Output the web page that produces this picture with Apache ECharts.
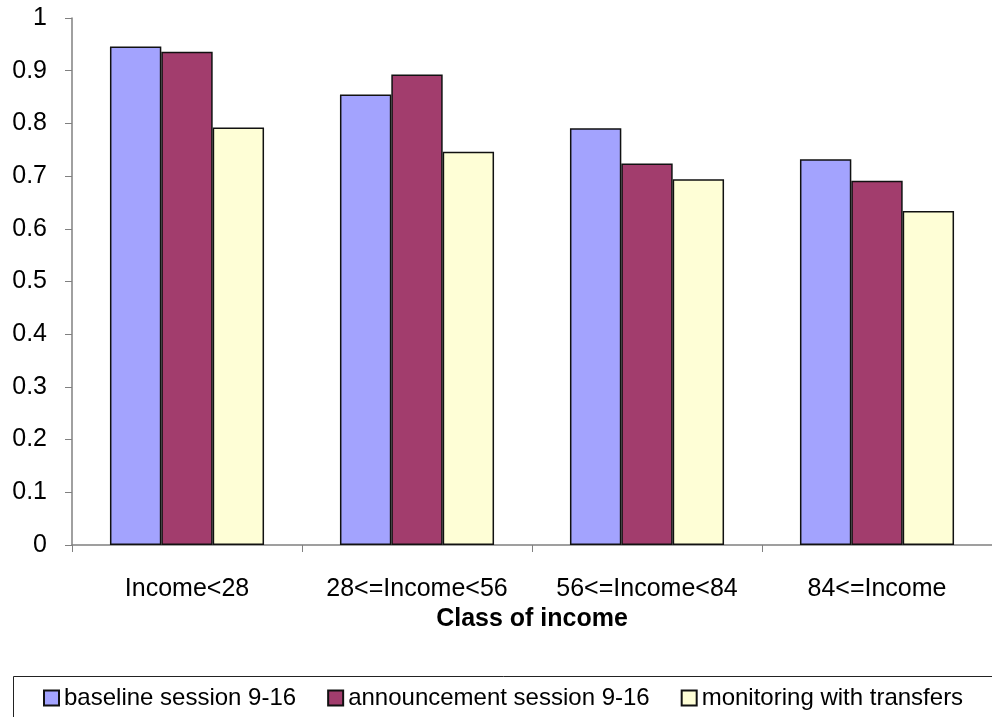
<!DOCTYPE html>
<html>
<head>
<meta charset="utf-8">
<script src="https://cdn.jsdelivr.net/npm/echarts@6/dist/echarts.min.js"></script>
<style>
  html, body { margin: 0; padding: 0; background: #fff; }
  #main { width: 992px; height: 717px; }
</style>
</head>
<body>
<div id="main"></div>
<script>
const categories = ['Income<28', '28<=Income<56', '56<=Income<84', '84<=Income']
const baseline = [0.946, 0.855, 0.791, 0.732]
const announcement = [0.936, 0.893, 0.724, 0.691]
const monitoring = [0.792, 0.746, 0.694, 0.634]
const seriesNames = ['baseline session 9-16', 'announcement session 9-16', 'monitoring with transfers']
const colors = ['#A3A3FE', '#A23D6D', '#FEFED6']

const font = 'Liberation Sans, Arial, sans-serif'
const chart = echarts.init(document.getElementById('main'))

const makeSeries = (name, data, color) => ({
  name: name,
  type: 'bar',
  data: data,
  barGap: '0%',
  barCategoryGap: '33%',
  itemStyle: { color: color, borderColor: '#111', borderWidth: 1.5 },
  emphasis: { disabled: true }
})

chart.setOption({
  animation: false,
  grid: { left: 72, right: -6, top: 18, bottom: 172 },
  graphic: [{
    type: 'rect',
    shape: { x: 13.5, y: 676.5, width: 990, height: 60 },
    style: { fill: '#fff', stroke: '#222', lineWidth: 1 },
    z: 0
  }],
  legend: {
    left: 43,
    top: 686,
    padding: 0,
    itemWidth: 15,
    itemHeight: 15,
    itemGap: 31,
    icon: 'rect',
    textStyle: { fontFamily: font, fontSize: 24, color: '#000' },
    data: seriesNames
  },
  xAxis: {
    type: 'category',
    data: categories,
    name: 'Class of income',
    nameLocation: 'middle',
    nameGap: 62,
    nameTextStyle: { fontFamily: font, fontSize: 25, fontWeight: 'bold', color: '#000' },
    axisLine: { lineStyle: { color: '#808080', width: 1.5 } },
    axisTick: { show: true, interval: 0, length: 7, lineStyle: { color: '#808080' } },
    axisLabel: { interval: 0, fontFamily: font, fontSize: 25, color: '#000', margin: 32 }
  },
  yAxis: {
    type: 'value',
    min: 0,
    max: 1,
    interval: 0.1,
    splitLine: { show: false },
    axisLine: { show: true, lineStyle: { color: '#808080', width: 1.5 } },
    axisTick: { show: true, length: 7, lineStyle: { color: '#808080' } },
    axisLabel: { fontFamily: font, fontSize: 25, color: '#000', margin: 25 }
  },
  series: [
    makeSeries(seriesNames[0], baseline, colors[0]),
    makeSeries(seriesNames[1], announcement, colors[1]),
    makeSeries(seriesNames[2], monitoring, colors[2])
  ]
})
</script>
</body>
</html>
